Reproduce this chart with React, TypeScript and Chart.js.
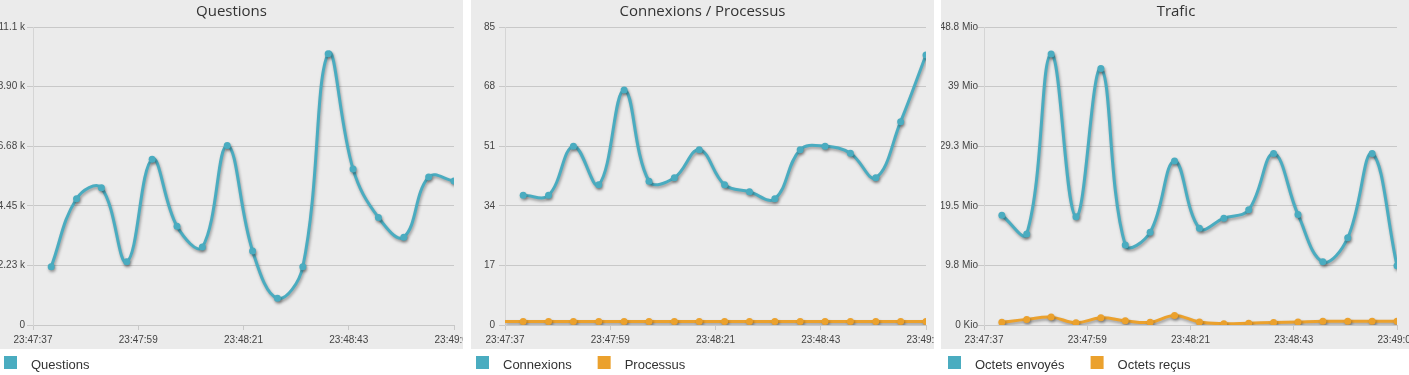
import React, { useEffect, useRef } from "react";
import { Chart, registerables } from "chart.js";

Chart.register(...registerables);

// ---- shared time axis (seconds after 23:47:37) ----
const timeTicks = [0, 22, 44, 66, 88];
const timeLabels = ["23:47:37", "23:47:59", "23:48:21", "23:48:43", "23:49:05"];
const sampleTimes = [3.8, 9.1, 14.3, 19.6, 24.9, 30.1, 35.4, 40.6, 45.9, 51.1, 56.4, 61.7, 66.9, 72.2, 77.5, 82.7, 88.0];
const processusTimes = [0, 3.8, 9.1, 14.3, 19.6, 24.9, 30.1, 35.4, 40.6, 45.9, 51.1, 56.4, 61.7, 66.9, 72.2, 77.5, 82.7, 88.0];

// ---- Questions ----
const questionsValues = [2174, 4717, 5123, 2359, 6192, 3685, 2911, 6707, 2764, 995, 2174, 10135, 5823, 4017, 3280, 5528, 5381];
const questionsTicks = [0, 2226, 4452, 6678, 8904, 11130];
const questionsTickLabels = ["0", "2.23 k", "4.45 k", "6.68 k", "8.90 k", "11.1 k"];

// ---- Connexions / Processus ----
const connexionsValues = [37, 37, 51, 40, 67, 41, 42, 50, 40, 38, 36, 50, 51, 49, 42, 58, 77];
const processusValues = [1, 1, 1, 1, 1, 1, 1, 1, 1, 1, 1, 1, 1, 1, 1, 1, 1, 1];
const connTicks = [0, 17, 34, 51, 68, 85];
const connTickLabels = ["0", "17", "34", "51", "68", "85"];

// ---- Trafic (Mio) ----
const envoyesValues = [17.98, 14.92, 44.39, 17.73, 42.01, 13.09, 15.19, 26.87, 15.84, 17.5, 18.86, 28.07, 18.1, 10.34, 14.27, 28.07, 9.7];
const recusValues = [0.44, 0.92, 1.29, 0.37, 1.18, 0.7, 0.44, 1.57, 0.48, 0.22, 0.3, 0.4, 0.5, 0.6, 0.6, 0.6, 0.6];
const traficTicks = [0, 9.76, 19.52, 29.28, 39.04, 48.8];
const traficTickLabels = ["0 Kio", "9.8 Mio", "19.5 Mio", "29.3 Mio", "39 Mio", "48.8 Mio"];

const TEAL = "#4AACC0";
const ORANGE = "#EBA12D";

type Series = { label: string; color: string; times: number[]; values: number[]; hideFirstPoint?: boolean };
type PanelProps = {
  left: number;
  width: number;
  title: string;
  series: Series[];
  yTicks: number[];
  yLabels: string[];
  yAxisWidth: number;
  rightPad: number;
  yLabelPad: number;
  legendX: number;
};

const bgPlugin = {
  id: "greyBg",
  beforeDraw(chart: any) {
    const ctx = chart.ctx;
    ctx.save();
    ctx.fillStyle = "#EBEBEB";
    ctx.fillRect(0, 0, chart.width, 349);
    ctx.restore();
  },
};

const shadowPlugin = {
  id: "lineShadow",
  beforeDatasetDraw(chart: any) {
    const ctx = chart.ctx;
    ctx.save();
    ctx.shadowColor = "rgba(0,0,0,0.35)";
    ctx.shadowBlur = 3;
    ctx.shadowOffsetX = 1;
    ctx.shadowOffsetY = 2;
  },
  afterDatasetDraw(chart: any) {
    chart.ctx.restore();
  },
};

function makeLegendPlugin(startX: number) {
  return {
    id: "bottomLegend",
    afterDraw(chart: any) {
      const ctx = chart.ctx;
      ctx.save();
      ctx.font = '13px "Liberation Sans", Arial, sans-serif';
      ctx.textBaseline = "alphabetic";
      ctx.textAlign = "left";
      let x = startX;
      chart.data.datasets.forEach((ds: any) => {
        ctx.fillStyle = ds.borderColor;
        ctx.fillRect(x, 356, 13, 13);
        ctx.fillStyle = "#333";
        ctx.fillText(ds.label, x + 27, 369);
        x += 27 + ctx.measureText(ds.label).width + 26;
      });
      ctx.restore();
    },
  };
}

function Panel(p: PanelProps) {
  const ref = useRef<HTMLCanvasElement>(null);
  useEffect(() => {
    const canvas = ref.current;
    if (!canvas) return;
    const tickFont = { family: '"Liberation Sans", Arial, sans-serif', size: 10 };
    const chart = new Chart(canvas, {
      type: "line",
      data: {
        datasets: p.series.map((s) => ({
          label: s.label,
          data: s.times.map((t, i) => ({ x: t, y: s.values[i] })),
          borderColor: s.color,
          backgroundColor: s.color,
          borderWidth: 3,
          tension: 0.4,
          fill: false,
          pointRadius: s.hideFirstPoint ? (c: any) => (c.dataIndex === 0 ? 0 : 3.5) : 3.5,
          pointBorderWidth: 0,
          pointBackgroundColor: s.color,
        })),
      },
      options: {
        responsive: false,
        animation: false,
        events: [],
        layout: { padding: { left: 0, right: 0, top: 0, bottom: 25 } },
        plugins: {
          legend: { display: false },
          tooltip: { enabled: false },
          title: {
            display: true,
            text: p.title,
            color: "#333",
            font: { family: '"Open Sans", sans-serif', size: 15, weight: "normal", lineHeight: 1.2 },
            padding: { top: 3, bottom: 6 },
          },
        },
        scales: {
          x: {
            type: "linear",
            min: timeTicks[0],
            max: timeTicks[timeTicks.length - 1],
            afterBuildTicks: (s: any) => {
              s.ticks = timeTicks.map((v) => ({ value: v }));
            },
            afterFit: (s: any) => {
              s.paddingLeft = 0;
              s.paddingRight = p.rightPad;
            },
            grid: { drawOnChartArea: false, drawTicks: true, tickLength: 5, color: "#C8C8C8" },
            border: { display: true, color: "#C8C8C8" },
            ticks: {
              autoSkip: false,
              maxRotation: 0,
              padding: 4,
              color: "#444",
              font: tickFont,
              callback: (_v: any, i: number) => timeLabels[i],
            },
          },
          y: {
            type: "linear",
            min: p.yTicks[0],
            max: p.yTicks[p.yTicks.length - 1],
            afterBuildTicks: (s: any) => {
              s.ticks = p.yTicks.map((v) => ({ value: v }));
            },
            afterFit: (s: any) => {
              s.width = p.yAxisWidth;
            },
            grid: { color: "#C8C8C8", tickLength: 6 },
            border: { display: true, color: "#D5D5D5" },
            ticks: {
              autoSkip: false,
              padding: p.yLabelPad,
              color: "#444",
              font: tickFont,
              callback: (_v: any, i: number) => p.yLabels[i],
            },
          },
        },
      },
      plugins: [bgPlugin, shadowPlugin, makeLegendPlugin(p.legendX)],
    } as any);
    return () => chart.destroy();
  }, []);
  return (
    <canvas
      ref={ref}
      width={p.width}
      height={375}
      style={{ position: "absolute", left: p.left, top: 0, width: p.width, height: 375 }}
    />
  );
}

export default function App() {
  return (
    <div
      style={{
        position: "fixed",
        left: 0,
        top: 0,
        width: 1409,
        height: 375,
        overflow: "hidden",
        background: "#fff",
      }}
    >
      <Panel
        left={0}
        width={463}
        title="Questions"
        series={[{ label: "Questions", color: TEAL, times: sampleTimes, values: questionsValues }]}
        yTicks={questionsTicks}
        yLabels={questionsTickLabels}
        yAxisWidth={33}
        rightPad={9}
        yLabelPad={2}
        legendX={4}
      />
      <Panel
        left={471}
        width={463}
        title="Connexions / Processus"
        series={[
          { label: "Connexions", color: TEAL, times: sampleTimes, values: connexionsValues },
          { label: "Processus", color: ORANGE, times: processusTimes, values: processusValues, hideFirstPoint: true },
        ]}
        yTicks={connTicks}
        yLabels={connTickLabels}
        yAxisWidth={34}
        rightPad={8}
        yLabelPad={4}
        legendX={5}
      />
      <Panel
        left={941}
        width={470}
        title="Trafic"
        series={[
          { label: "Octets envoyés", color: TEAL, times: sampleTimes, values: envoyesValues },
          { label: "Octets reçus", color: ORANGE, times: sampleTimes, values: recusValues },
        ]}
        yTicks={traficTicks}
        yLabels={traficTickLabels}
        yAxisWidth={43}
        rightPad={14}
        yLabelPad={0}
        legendX={7}
      />
    </div>
  );
}
